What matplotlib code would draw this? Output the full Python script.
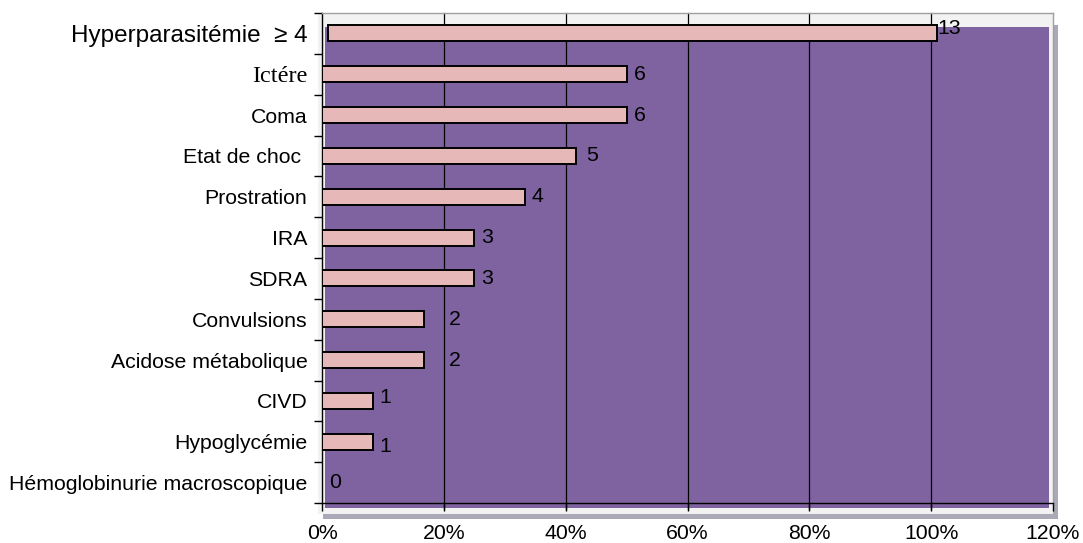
import matplotlib
matplotlib.use("Agg")
import matplotlib.pyplot as plt
from matplotlib.patches import Rectangle

# --- data -------------------------------------------------------------
categories = [
    "Hyperparasitémie  ≥ 4",
    "Ictére",
    "Coma",
    "Etat de choc ",
    "Prostration",
    "IRA",
    "SDRA",
    "Convulsions",
    "Acidose métabolique",
    "CIVD",
    "Hypoglycémie",
    "Hémoglobinurie macroscopique",
]
counts = [13, 6, 6, 5, 4, 3, 3, 2, 2, 1, 1, 0]
percents = [100, 50, 50, 41.7, 33.3, 25, 25, 16.7, 16.7, 8.3, 8.3, 0]
x_ticks = [0, 20, 40, 60, 80, 100, 120]
x_tick_labels = ["0%", "20%", "40%", "60%", "80%", "100%", "120%"]

# --- layout / style ---------------------------------------------------
W, H = 1083, 543
bar_start = [1, 0, 0, 0, 0, 0, 0, 0, 0, 0, 0, 0]
label_dx = [0, 7, 7, 10, 7, 7, 7, 25, 25, 7, 7, 7]      # pixels
label_dy = [5, 0, 0, 0, 0, 0, 0, 0, 0, 3, -5, 0]        # pixels
purple = "#7F63A1"
bar_color = "#E6B8B7"
sans = "Liberation Sans"
serif = "Liberation Serif"
fs = 15.3

fig = plt.figure(figsize=(W / 100, H / 100), dpi=100)


def fig_rect(x0, y0, x1, y1, **kw):
    """Rectangle given in pixel coordinates measured from the top-left."""
    r = Rectangle((x0 / W, 1 - y1 / H), (x1 - x0) / W, (y1 - y0) / H,
                  transform=fig.transFigure, **kw)
    fig.add_artist(r)
    return r


# chart frame: shadow, light panel, purple wall
fig_rect(323, 25, 1058, 519, facecolor="#ABA8B8", edgecolor="none", zorder=-3)
fig_rect(318, 13, 1053, 514, facecolor="#F2F2F2", edgecolor="none", zorder=-2)
fig_rect(325, 27, 1049, 508, facecolor=purple, edgecolor="none", zorder=-1)

ax = fig.add_axes([322 / W, 40 / H, 731 / W, 490 / H])
ax.set_facecolor("none")

y = list(range(len(categories)))
ax.set_xlim(0, 120)
ax.set_ylim(len(categories) - 0.5, -0.5)

# vertical gridlines
for xv in x_ticks[1:-1]:
    ax.axvline(xv, ymin=-0.012, ymax=1, color="black", lw=0.9,
               zorder=1, clip_on=False)

ax.barh(y, percents, left=bar_start, height=0.39, color=bar_color,
        edgecolor="black", linewidth=1.4, zorder=3)

for yi, (c, p, s, dx, dy) in enumerate(zip(counts, percents, bar_start,
                                            label_dx, label_dy)):
    ax.annotate(str(c), xy=(s + p, yi), xytext=(dx, dy),
                textcoords="offset pixels", ha="left", va="center",
                fontsize=fs, family=sans, color="black", zorder=4)

# spines
for side in ("left", "bottom"):
    ax.spines[side].set_color("black")
    ax.spines[side].set_linewidth(1.0)
for side in ("top", "right"):
    ax.spines[side].set_color("#A0A0A0")
    ax.spines[side].set_linewidth(1.0)

# y axis: category labels, boundary ticks
ax.set_yticks(y)
ax.set_yticklabels(categories)
ax.set_yticks([k - 0.5 for k in range(len(categories) + 1)], minor=True)
ax.tick_params(axis="y", which="major", length=0, pad=10.5)
ax.tick_params(axis="y", which="minor", length=6, width=1.0,
               color="black", direction="out")
for i, lab in enumerate(ax.get_yticklabels()):
    lab.set_fontfamily(sans)
    lab.set_fontsize(fs)
ax.get_yticklabels()[0].set_fontsize(17.5)
ax.get_yticklabels()[1].set_fontfamily(serif)
ax.get_yticklabels()[1].set_fontsize(17.5)

# x axis
ax.set_xticks(x_ticks)
ax.set_xticklabels(x_tick_labels)
ax.tick_params(axis="x", length=6, width=1.0, color="black",
               direction="out", pad=9)
for lab in ax.get_xticklabels():
    lab.set_fontfamily(sans)
    lab.set_fontsize(fs)

fig.savefig("out.png", dpi=100)
